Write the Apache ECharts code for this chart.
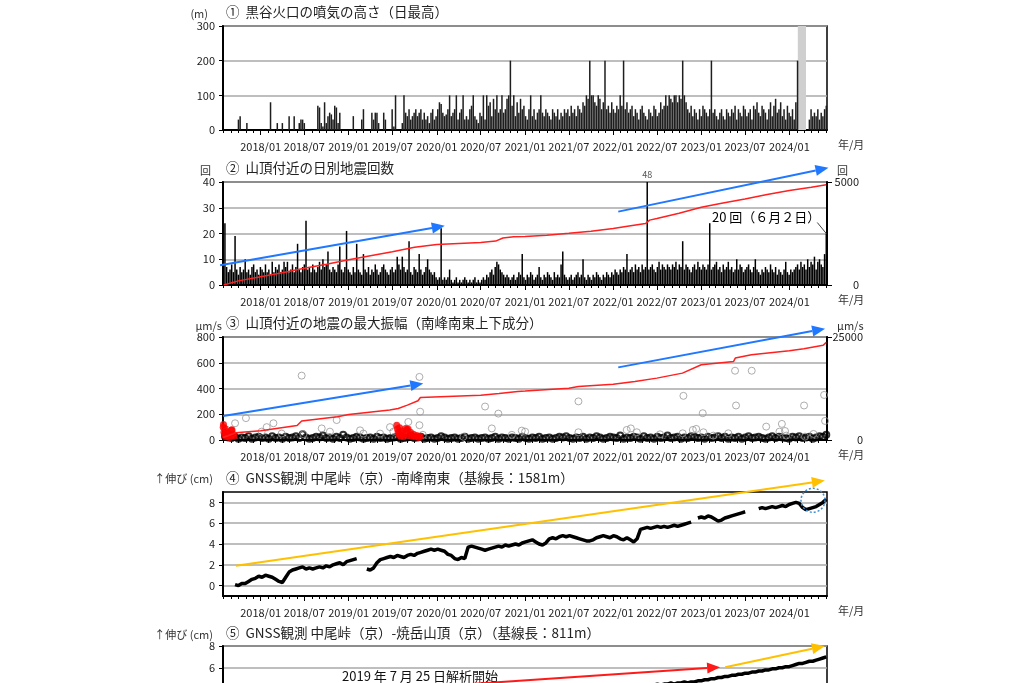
<!DOCTYPE html>
<html><head><meta charset="utf-8">
<script src="https://cdn.jsdelivr.net/npm/echarts@6/dist/echarts.min.js"></script>
<style>html,body{margin:0;padding:0;background:#fff}#c{width:1024px;height:683px}</style>
</head><body><div id="c"></div><script>
// ---------- data ----------
const tickLabels = ['2018/01','2018/07','2019/01','2019/07','2020/01','2020/07','2021/01','2021/07','2022/01','2022/07','2023/01','2023/07','2024/01'];
const xRange = ['2017-07-29','2024-06-05'];
const weekStart = '2017-08-06';           // weekly samples, 7 days apart
const plumeHeight = [
0,0,0,0,0,0,0,0,30,40,
0,0,0,20,0,0,0,0,0,0,0,0,
0,0,0,0,0,80,0,0,0,20,0,0,
20,0,0,0,40,0,0,40,0,0,20,30,
30,20,0,0,0,0,0,0,0,70,65,20,
10,80,20,40,50,45,30,70,65,20,50,0,
0,0,0,0,0,0,40,0,0,0,0,30,
60,0,0,0,0,50,30,50,50,20,0,0,
50,30,0,0,0,60,10,100,0,0,0,20,
100,50,40,60,30,40,50,60,40,50,60,30,
50,30,40,20,50,60,30,40,60,80,75,50,
40,45,60,100,40,50,60,100,30,50,60,100,
30,40,30,60,70,100,40,30,20,50,40,100,
30,100,70,80,40,90,60,100,50,60,100,50,
60,90,100,200,70,100,40,80,50,90,60,70,
40,30,60,100,40,60,30,50,60,100,50,40,
60,50,40,30,60,50,40,60,30,50,40,60,
50,60,40,70,50,60,40,70,60,50,80,70,
100,90,200,100,100,80,70,100,90,60,80,200,
60,70,50,80,60,50,70,60,100,70,200,60,
80,50,60,70,40,60,50,30,60,70,50,40,
30,60,50,40,70,60,40,50,80,60,70,100,
70,100,90,80,100,100,80,100,90,200,100,80,
60,50,70,40,60,50,30,60,40,70,60,50,
40,60,200,50,60,40,30,50,60,40,30,60,
50,40,60,50,70,30,60,50,40,70,60,40,
50,60,30,70,60,80,50,40,70,60,50,30,
60,80,40,70,90,50,60,80,40,60,30,70,
50,40,60,30,80,200,0,0,0,0,0,0,
30,60,40,50,40,60,30,50,40,60,70];
const plumeMissing = ['2024-02-05','2024-03-10'];
const quakeCount = [
24,7,5,6,8,5,19,6,4,7,5,6,
10,5,6,4,7,8,5,6,4,7,6,5,
8,5,6,4,9,5,7,6,8,5,6,9,
7,9,5,6,8,5,7,16,6,5,7,8,
25,6,7,5,8,6,5,7,9,6,10,7,
8,13,6,5,7,6,5,8,15,6,5,7,
21,6,5,4,7,5,16,6,5,4,12,6,
5,7,4,6,5,8,6,4,5,7,8,6,
5,4,6,7,5,6,11,8,6,11,7,5,
6,17,5,4,7,6,5,12,6,4,5,7,
10,6,5,4,5,3,2,3,22,2,3,2,
3,6,2,1,2,3,1,2,1,2,3,2,
1,2,1,2,3,1,2,1,2,3,2,4,
3,5,6,4,7,9,8,6,5,4,3,4,
3,2,3,4,2,3,5,4,12,3,2,4,
3,5,4,2,3,4,7,3,2,4,3,5,
4,3,2,5,3,4,3,8,13,4,3,2,
3,4,2,3,4,5,3,4,10,3,2,4,
3,2,4,3,5,4,3,2,4,3,5,4,
3,5,4,6,5,4,6,5,7,6,12,5,
6,7,5,8,6,7,5,8,6,7,48,6,
7,8,6,5,7,9,6,8,7,6,8,7,
6,8,7,9,6,8,7,17,6,8,7,6,
5,7,8,6,9,7,6,8,7,6,8,24,
6,7,8,9,6,7,5,8,6,7,9,6,
7,5,6,10,6,8,7,5,6,7,8,6,
5,7,10,6,5,4,6,5,7,6,5,8,
6,5,7,4,6,5,4,6,9,5,4,6,
5,6,7,8,6,9,7,8,6,10,7,9,
8,11,6,9,10,8,7,12,20];
const quakeCumulative = [
['2017-08-01',0],['2017-10-01',200],['2018-01-01',400],['2018-04-01',600],['2018-07-01',810],['2018-10-01',1010],
['2019-01-01',1230],['2019-04-01',1420],['2019-07-01',1610],['2019-10-01',1830],['2020-01-01',1970],['2020-04-01',2020],
['2020-07-01',2065],['2020-09-01',2130],['2020-10-01',2280],['2020-11-15',2340],['2021-01-01',2350],['2021-04-01',2420],
['2021-07-01',2510],['2021-10-01',2610],['2022-01-01',2740],['2022-03-01',2850],['2022-05-15',2980],['2022-06-01',3150],
['2022-07-01',3230],['2022-10-01',3480],['2023-01-01',3770],['2023-04-01',3980],['2023-07-01',4180],['2023-10-01',4390],
['2024-01-01',4590],['2024-04-01',4740],['2024-06-02',4870]];
const lastCount = ['2024-06-02', 20];
const ampStart = '2017-08-06';           // biweekly samples, 14 days apart
const ampSmall = [
30,20,15,25,10,20,15,30,10,20,25,15,20,10,30,
15,20,10,25,15,20,30,15,45,20,10,15,25,20,35,
15,20,10,25,15,40,20,10,15,25,20,10,15,20,10,
25,15,20,10,15,20,25,10,15,20,35,15,20,25,10,
15,20,10,15,30,20,10,15,20,10,15,25,10,15,20,
10,15,20,10,15,25,10,20,15,10,20,15,10,25,15,
10,20,15,25,10,15,20,10,15,25,20,30,15,10,20,
15,25,10,20,15,30,20,10,15,25,20,15,35,10,20,
15,25,20,10,30,15,20,10,25,15,20,35,15,20,25,
10,20,15,30,25,15,20,10,25,15,20,30,15,25,10,
20,15,25,10,20,30,15,20,25,15,10,20,30,15,25,
20,15,10,25,20,30,15,20,25,10,20,30,25,40];
const ampLarge = [
['2017-08-13',80],['2017-09-03',70],['2017-09-17',130],['2017-11-01',170],['2018-01-05',65],['2018-01-26',100],
['2018-02-23',130],['2018-03-29',50],['2018-06-20',500],['2018-06-27',45],['2018-09-11',90],['2018-10-15',65],
['2018-11-12',155],['2019-02-17',75],['2019-03-03',50],['2019-05-11',50],['2019-06-21',100],['2019-07-05',65],
['2019-09-05',140],['2019-10-21',490],['2019-10-21',115],['2019-10-24',220],['2019-11-04',40],['2020-04-20',25],
['2020-07-19',260],['2020-08-16',90],['2020-09-12',205],['2020-11-07',40],['2020-12-18',73],['2021-01-01',65],
['2021-08-10',300],['2021-08-10',60],['2022-02-26',78],['2022-03-15',90],['2022-04-09',60],['2022-07-14',44],
['2022-10-16',52],['2022-10-19',343],['2022-11-27',78],['2022-12-11',86],['2023-01-07',208],['2023-01-10',60],
['2023-02-20',34],['2023-04-23',52],['2023-05-21',538],['2023-05-25',268],['2023-07-29',538],['2023-09-27',104],
['2023-11-21',65],['2023-12-01',125],['2023-12-14',70],['2023-12-19',34],['2024-03-02',268],['2024-03-06',26],
['2024-04-10',47],['2024-05-24',350],['2024-05-28',148]];
const ampRed = [
['2017-07-30',100],['2017-07-31',120],['2017-08-02',60],['2017-08-04',40],['2017-08-06',90],['2017-08-09',25],
['2017-08-12',65],['2017-08-16',30],['2017-08-20',50],['2017-08-25',20],['2017-09-01',75],['2017-09-04',80],
['2017-09-08',45],['2017-09-12',30],
['2019-07-19',115],['2019-07-22',85],['2019-07-25',60],['2019-07-28',45],['2019-07-31',95],['2019-08-04',30],
['2019-08-08',70],['2019-08-12',50],['2019-08-16',25],['2019-08-20',40],['2019-08-25',90],['2019-08-30',80],
['2019-09-04',85],['2019-09-09',35],['2019-09-14',60],['2019-09-20',30],['2019-09-26',45],['2019-10-03',25],
['2019-10-10',35],['2019-10-18',20],['2019-10-24',30]];
const ampCumulative = [
['2017-07-29',600],['2017-09-20',1770],['2018-01-01',2260],['2018-06-01',3500],['2018-06-20',4600],['2018-11-15',5650],
['2019-01-01',6210],['2019-06-20',7260],['2019-07-25',7660],['2019-09-01',8470],['2019-10-15',9520],['2019-10-25',10320],
['2020-07-01',10890],['2020-09-15',11290],['2020-12-01',11800],['2021-01-01',11900],['2021-07-01',12580],['2021-08-10',12990],
['2022-01-01',13560],['2022-04-01',14200],['2022-07-01',15020],['2022-10-15',16230],['2023-01-01',18260],['2023-05-15',19070],
['2023-05-22',19890],['2023-07-28',20700],['2024-01-01',21670],['2024-03-01',22160],['2024-05-20',23000],['2024-06-02',23700]];
const gnssStart = '2017-09-03';          // biweekly samples, 14 days apart
const gnssA = [
null,0.1,0.0,0.2,0.2,
0.4,0.6,0.7,0.9,0.8,1.0,0.9,0.8,0.6,0.4,0.3,0.8,
1.3,1.5,1.6,1.7,1.8,1.6,1.7,1.6,1.7,1.8,1.7,1.9,1.8,2.0,2.1,2.2,2.0,2.3,2.4,2.5,2.6,
null,null,
1.6,1.5,1.7,2.2,2.5,2.6,2.7,2.8,2.7,2.9,2.8,2.7,2.9,3.0,2.9,3.1,3.2,3.3,3.4,3.5,3.4,3.5,3.4,3.3,3.0,2.9,2.6,2.5,2.7,2.6,
3.7,3.8,3.7,3.6,3.5,3.4,3.5,3.6,3.7,3.8,3.7,3.9,3.8,3.9,4.0,3.9,4.1,4.2,4.3,4.4,4.2,4.0,3.9,4.1,4.5,4.6,4.5,4.7,4.8,4.7,
4.8,4.7,4.6,4.5,4.4,4.3,4.3,4.4,4.6,4.7,4.8,4.7,4.6,4.8,4.7,4.5,4.4,4.6,4.4,4.2,4.5,
5.4,5.5,5.6,5.5,5.6,5.7,5.6,5.7,5.6,5.7,5.8,5.7,5.8,5.9,6.0,6.1,
null,
6.5,6.6,6.5,6.7,6.6,6.4,6.2,6.3,6.5,6.6,6.7,6.8,6.9,7.0,7.1,
null,null,null,
7.4,7.5,7.4,7.5,7.6,7.5,7.6,7.7,7.6,7.8,7.9,8.0,7.9,7.5,7.3,7.4,7.5,7.6,7.8,8.0,8.3];
const gnssBStart = '2019-08-04';
const gnssB = [
0.0,0.1,0.2,0.1,0.3,0.4,0.3,0.5,0.6,0.5,0.7,0.8,0.7,0.9,1.0,
1.0,1.1,1.2,1.1,1.3,1.4,1.3,1.5,1.6,1.5,1.7,1.8,1.8,1.9,2.0,
2.0,2.1,2.2,2.1,2.3,2.4,2.3,2.5,2.5,2.6,2.7,2.6,2.8,2.9,2.8,
3.0,3.0,3.1,3.2,3.1,3.2,3.3,3.3,3.4,3.5,3.4,3.5,3.6,3.6,3.7,
3.8,3.7,3.8,3.9,3.9,4.0,4.0,4.1,4.1,4.2,4.2,4.3,4.2,4.3,4.4,
4.4,4.5,4.4,4.5,4.5,4.6,4.5,4.6,4.6,4.7,4.6,4.7,4.7,4.8,4.8,
4.9,4.9,5.0,5.0,5.1,5.1,5.2,5.2,5.3,5.3,5.4,5.4,5.5,5.5,5.6,
5.6,5.7,5.7,5.8,5.8,5.9,5.9,6.0,6.0,6.1,6.1,6.2,6.3,6.4,6.4,
6.5,6.6,6.6,6.7,6.8,6.9,7.0];
const arrowsCount = [['2017-07-17',7.7,'2020-02-03',23.0,'#1f78ff'],['2022-01-22',28.5,'2024-06-11',45.5,'#1f78ff']];
const arrowsAmp = [['2017-07-30',186,'2019-11-06',439,'#1f78ff'],['2022-01-22',564,'2024-05-28',865,'#1f78ff']];
const arrowsGnssA = [['2017-09-21',1.9,'2024-05-27',10.1,'#ffc000']];
const arrowsGnssB = [['2019-07-25',4.05,'2023-03-20',6.05,'#ff1a1a'],['2023-04-10',6.05,'2024-05-27',8.0,'#ffc000']];
const gnssCircle = [['2024-04-08',8.2]];

// ---------- helpers ----------
const FONT = '"Noto Sans CJK JP","Noto Sans",sans-serif';
const T = s => { const p = s.split('-').map(Number); return new Date(p[0], p[1]-1, p[2]).getTime(); };
const addDays = (s, n) => { const p = s.split('-').map(Number); return new Date(p[0], p[1]-1, p[2] + n).getTime(); };
const X_MIN = T(xRange[0]), X_MAX = T(xRange[1]);
const majorTicks = tickLabels.map(s => { const p = s.split('/').map(Number); return new Date(p[0], p[1]-1, 1).getTime(); });
const monthTicks = [];
for (let y = 2017; y <= 2024; y++) for (let m = 0; m < 12; m++) { const t = new Date(y, m, 1).getTime(); if (t > X_MIN && t < X_MAX) monthTicks.push(t); }
const fmtTick = v => { const d = new Date(v); return d.getFullYear() + '/' + String(d.getMonth()+1).padStart(2,'0'); };

const gridTops = [26,182,337,492,646], gridHeights = [104,103,103,104,87];
const grid = gridTops.map((t,i) => ({left:223, width:604, top:t, height:gridHeights[i], show:true, borderColor:'#000', borderWidth:1.5,
  containLabel:false, outerBoundsMode:'none'}));

const xAxis = [];
gridTops.forEach((t,g) => {
  xAxis.push({type:'value', gridIndex:g, min:X_MIN, max:X_MAX, position:'bottom',
    axisLine:{show:true, onZero:false, lineStyle:{color:'#000', width:2}},
    axisTick:{show:true, customValues:majorTicks, length:5, lineStyle:{color:'#000', width:1}},
    axisLabel:{customValues:majorTicks, formatter:fmtTick, margin:11, fontSize:11, color:'#222', fontFamily:FONT},
    splitLine:{show:false},
    name:'年/月', nameLocation:'end', nameGap:11,
    nameTextStyle:{fontSize:11, color:'#333', fontFamily:FONT, align:'left', verticalAlign:'top', padding:[9,0,0,0]}});
  xAxis.push({type:'value', gridIndex:g, min:X_MIN, max:X_MAX, position:'bottom',
    axisLine:{show:false, onZero:false},
    axisTick:{show:true, customValues:monthTicks, length:3, lineStyle:{color:'#000', width:1}},
    axisLabel:{show:false}, splitLine:{show:false}});
});

const lbl = {fontSize:11, color:'#222', fontFamily:FONT};
const split = {show:true, lineStyle:{color:'#a8a8a8', width:1.5}};
const axLine = {show:true, onZero:false, lineStyle:{color:'#000', width:2}};
const leftY = (g, min, max, interval, name, pr, gap, extra) => Object.assign({
  type:'value', gridIndex:g, position:'left', min, max, interval,
  axisLine:axLine, axisTick:{show:true, length:4, lineStyle:{color:'#000'}},
  axisLabel:Object.assign({margin:8}, lbl), splitLine:split,
  name, nameLocation:'end', nameGap:gap,
  nameTextStyle:{fontSize:11, color:'#333', fontFamily:FONT, align:'right', padding:[0,pr,0,0]}}, extra || {});
const rightY = (g, max, name, margin) => ({
  type:'value', gridIndex:g, position:'right', min:0, max, interval:max,
  axisLine:axLine, axisTick:{show:true, length:5, lineStyle:{color:'#000'}},
  axisLabel:Object.assign({margin, align:'right', formatter:v => String(v)}, lbl), splitLine:{show:false},
  name, nameLocation:'end', nameGap:6,
  nameTextStyle:{fontSize:11, color:'#333', fontFamily:FONT, align:'left', padding:[0,0,0,10]}});

const yAxis = [
  leftY(0, 0, 300, 100, '(m)', 15, 7),
  leftY(1, 0, 40, 10, '回', 12, 6),
  rightY(1, 5000, '回', 32),
  leftY(2, 0, 800, 200, 'μm/s', 1, 6),
  rightY(2, 25000, 'μm/s', 36),
  leftY(3, -1, 9, null, '↑伸び (cm)', 10, 8, {interval:undefined,
      axisLabel:Object.assign({margin:8, customValues:[0,2,4,6,8]}, lbl),
      axisTick:{show:true, length:4, customValues:[0,2,4,6,8], lineStyle:{color:'#000'}}}),
  leftY(4, 0, 8, 2, '↑伸び (cm)', 10, 5)
];

const weekly = (start, arr) => arr.map((v,i) => [addDays(start, 7*i), v]);
const biweekly = (start, arr) => arr.map((v,i) => [addDays(start, 14*i), v]);
const pairs = arr => arr.map(d => [T(d[0]), d[1]]);
const arrowData = arr => arr.map(a => [T(a[0]), a[1], T(a[2]), a[3]]);

function arrowSeries(xi, yi, arr) {
  return {type:'custom', xAxisIndex:xi, yAxisIndex:yi, clip:false, silent:true, z:5,
    data:arrowData(arr),
    renderItem(params, api) {
      const color = arr[params.dataIndex][4];
      const a = api.coord([api.value(0), api.value(1)]);
      const b = api.coord([api.value(2), api.value(3)]);
      const dx = b[0]-a[0], dy = b[1]-a[1], L = Math.hypot(dx,dy), ux = dx/L, uy = dy/L;
      const hl = 13, hw = 5.5;
      const bx = b[0]-ux*hl, by = b[1]-uy*hl;
      return {type:'group', children:[
        {type:'line', shape:{x1:a[0], y1:a[1], x2:bx, y2:by}, style:{stroke:color, lineWidth:2}},
        {type:'polygon', shape:{points:[[b[0],b[1]],[bx-uy*hw, by+ux*hw],[bx+uy*hw, by-ux*hw]]}, style:{fill:color}}
      ]};
    }};
}

const peakIdx = quakeCount.indexOf(Math.max(...quakeCount));
const peakDate = addDays(weekStart, 7*peakIdx);

const series = [
  {type:'bar', xAxisIndex:0, yAxisIndex:0, barWidth:1.5, itemStyle:{color:'#1e1e1e'}, data:weekly(weekStart, plumeHeight),
   markArea:{silent:true, itemStyle:{color:'#cfcfcf'}, data:[[{xAxis:T(plumeMissing[0])},{xAxis:T(plumeMissing[1])}]]}},
  {type:'bar', xAxisIndex:2, yAxisIndex:1, barWidth:1.5, itemStyle:{color:'#000'}, data:weekly(weekStart, quakeCount)},
  {type:'line', xAxisIndex:2, yAxisIndex:2, showSymbol:false, lineStyle:{color:'#ff2020', width:1.5}, data:pairs(quakeCumulative), z:4},
  {type:'custom', xAxisIndex:2, yAxisIndex:1, clip:false, silent:true, z:6,
   data:[[peakDate, 40]],
   renderItem(params, api) {
     const p = api.coord([api.value(0), api.value(1)]);
     return {type:'text', x:p[0], y:p[1]-3, style:{text:String(quakeCount[peakIdx]), fill:'#555', fontSize:9, fontFamily:FONT, align:'center', verticalAlign:'bottom'}};
   }},
  {type:'custom', xAxisIndex:2, yAxisIndex:1, clip:false, silent:true, z:6,
   data:[[T(lastCount[0]), lastCount[1]]],
   renderItem(params, api) {
     const p = api.coord([api.value(0), api.value(1)]);
     return {type:'group', children:[
       {type:'line', shape:{x1:p[0]-9, y1:p[1]-11, x2:p[0], y2:p[1]}, style:{stroke:'#444', lineWidth:1}},
       {type:'text', x:p[0]-6, y:p[1]-16, style:{text:lastCount[1] + ' 回（６月２日）', fill:'#000', fontSize:13, fontFamily:FONT, align:'right', verticalAlign:'middle'}}
     ]};
   }},
  arrowSeries(2, 1, arrowsCount),
  {type:'scatter', xAxisIndex:4, yAxisIndex:3, symbol:'circle', symbolSize:6,
   itemStyle:{color:'rgba(0,0,0,0)', borderColor:'#000', borderWidth:2}, data:biweekly(ampStart, ampSmall)},
  {type:'scatter', xAxisIndex:4, yAxisIndex:3, symbol:'circle', symbolSize:7,
   itemStyle:{color:'rgba(0,0,0,0)', borderColor:'#999', borderWidth:1}, data:pairs(ampLarge)},
  {type:'scatter', xAxisIndex:4, yAxisIndex:3, symbol:'circle', symbolSize:7, itemStyle:{color:'#ff0000'}, data:pairs(ampRed)},
  {type:'line', xAxisIndex:4, yAxisIndex:4, showSymbol:false, lineStyle:{color:'#ff2020', width:1.5}, data:pairs(ampCumulative), z:4},
  arrowSeries(4, 3, arrowsAmp),
  {type:'line', xAxisIndex:6, yAxisIndex:5, showSymbol:false, connectNulls:false, lineStyle:{color:'#000', width:3.5}, data:biweekly(gnssStart, gnssA)},
  arrowSeries(6, 5, arrowsGnssA),
  {type:'custom', xAxisIndex:6, yAxisIndex:5, clip:false, silent:true, z:6,
   data:pairs(gnssCircle),
   renderItem(params, api) {
     const p = api.coord([api.value(0), api.value(1)]);
     return {type:'circle', shape:{cx:p[0], cy:p[1], r:12}, style:{fill:'none', stroke:'#3d8fd6', lineWidth:1.5, lineDash:[2,2]}};
   }},
  {type:'line', xAxisIndex:8, yAxisIndex:6, showSymbol:false, lineStyle:{color:'#000', width:3.5}, data:biweekly(gnssBStart, gnssB)},
  arrowSeries(8, 6, arrowsGnssB)
];

const titles = [
  '①  黒谷火口の噴気の高さ（日最高）',
  '②  山頂付近の日別地震回数',
  '③  山頂付近の地震の最大振幅（南峰南東上下成分）',
  '④  GNSS観測 中尾峠（京）-南峰南東（基線長：1581m）',
  '⑤  GNSS観測 中尾峠（京）-焼岳山頂（京）（基線長：811m）'
];
const titleCenters = [12,168,323,478,633];

const chart = echarts.init(document.getElementById('c'), null, {renderer:'canvas'});
chart.setOption({
  animation:false,
  backgroundColor:'#fff',
  title: titles.map((t,i) => ({text:t, left:226, top:titleCenters[i]-8, padding:0,
    textStyle:{fontSize:13.5, fontWeight:'normal', color:'#222', fontFamily:FONT, lineHeight:16}})),
  grid, xAxis, yAxis, series,
  graphic:[{type:'text', left:342, top:670, style:{text:'2019 年 7 月 25 日解析開始', fontSize:13, fill:'#111', fontFamily:FONT}}]
});
</script></body></html>
